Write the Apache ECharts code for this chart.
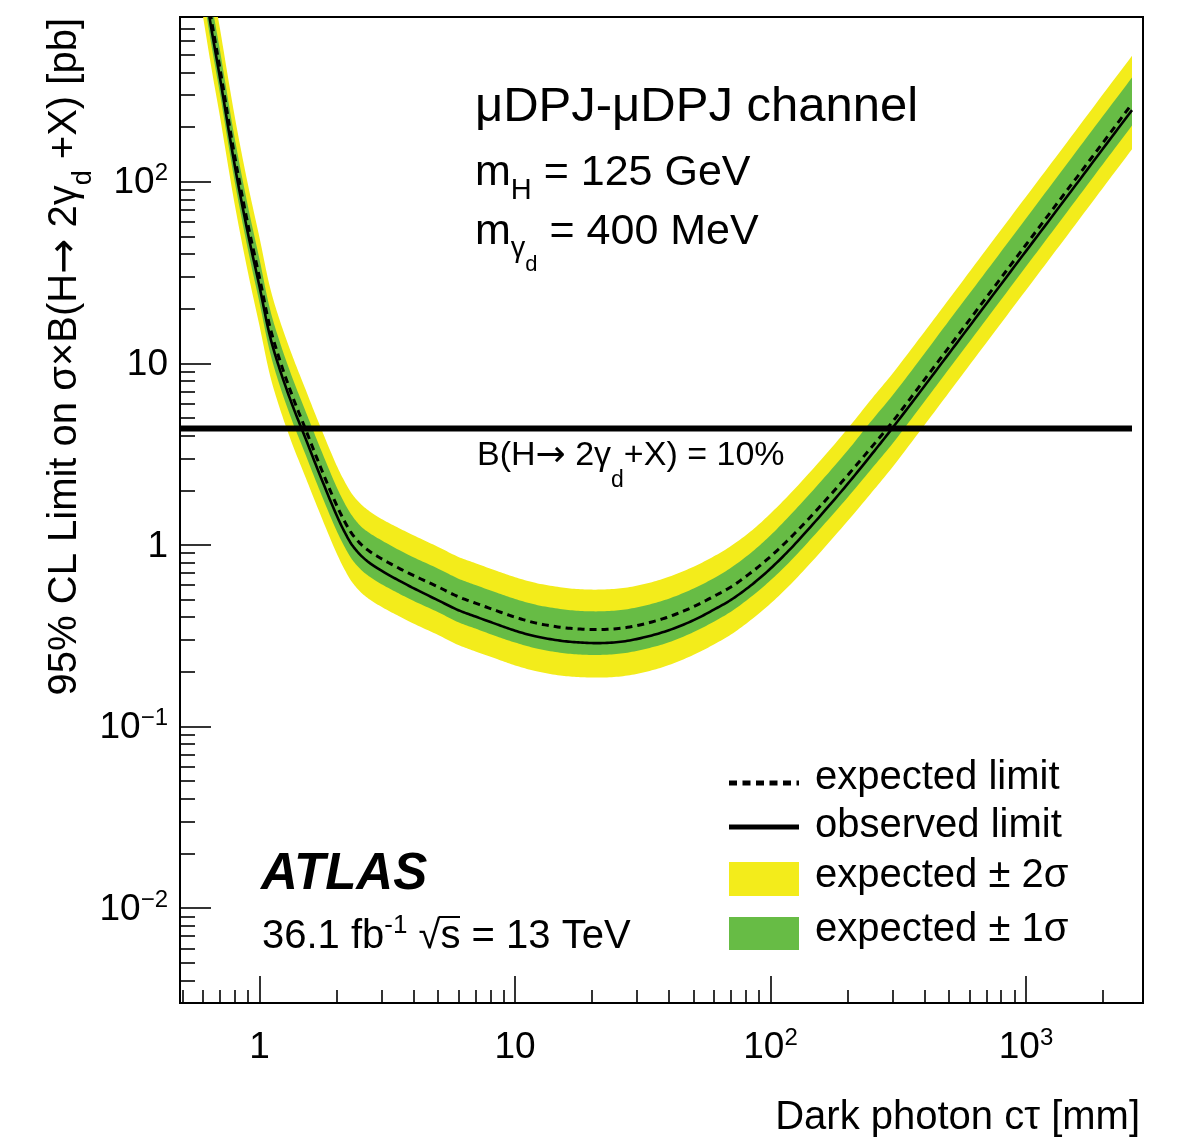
<!DOCTYPE html>
<html><head><meta charset="utf-8">
<script src="https://cdn.jsdelivr.net/npm/echarts@6/dist/echarts.min.js"></script>
<style>html,body{margin:0;padding:0;background:#fff}#c{width:1190px;height:1146px}</style>
</head><body><div id="c"></div>
<script>
// ---------------- data ----------------
const ctValues      = [0.55,0.6,0.65,0.7,0.8,0.9,1.0,1.1,1.2,1.35,1.5,1.7,2.0,2.15,2.3,2.5,2.7,3.0,3.5,4,5,6,7,8.5,10,12,15,18,22,27,33,40,50,60,70,85,100,120,150,200,250,300,400,500,700,1000,1400,2000,2600];
const observedLimit = [2950,1346,675,372,122,52.0,26.3,13.96,9.25,5.78,3.98,2.54,1.46,1.18,1.00,0.871,0.794,0.721,0.638,0.578,0.495,0.437,0.403,0.365,0.337,0.314,0.297,0.290,0.288,0.295,0.313,0.339,0.385,0.440,0.498,0.608,0.741,0.955,1.35,2.16,3.18,4.40,7.48,11.35,21.3,41.5,77.8,152,248];
const expectedLimit = [3311,1510,757,418,137,58.3,29.5,15.7,10.4,6.49,4.47,2.86,1.66,1.35,1.15,1.005,0.920,0.839,0.746,0.679,0.587,0.518,0.478,0.433,0.400,0.372,0.352,0.344,0.342,0.350,0.371,0.402,0.457,0.521,0.587,0.714,0.863,1.10,1.53,2.41,3.49,4.76,8.11,12.3,23.1,45.0,84.3,164,269];
const expectedPlus2 = [5495,2506,1256,693,227,96.8,49.0,26.0,17.2,10.8,7.41,4.75,2.75,2.24,1.91,1.67,1.53,1.39,1.24,1.13,0.975,0.859,0.793,0.718,0.664,0.618,0.585,0.570,0.568,0.581,0.615,0.667,0.759,0.865,0.986,1.21,1.49,1.93,2.72,4.35,6.43,8.77,14.9,22.6,42.5,82.8,155,303,494];
const expectedPlus1 = [4169,1901,953,526,172,73.5,37.2,19.7,13.1,8.17,5.62,3.61,2.09,1.70,1.45,1.26,1.16,1.06,0.940,0.855,0.740,0.652,0.601,0.545,0.504,0.469,0.444,0.433,0.431,0.441,0.467,0.506,0.575,0.656,0.748,0.920,1.13,1.47,2.07,3.30,4.88,6.65,11.3,17.2,32.2,62.8,118,230,375];
const expectedMinus1= [2399,1094,548,303,99.1,42.3,21.4,11.4,7.52,4.70,3.24,2.07,1.20,0.977,0.832,0.728,0.667,0.608,0.541,0.492,0.426,0.375,0.346,0.313,0.290,0.270,0.255,0.249,0.248,0.254,0.269,0.291,0.331,0.378,0.429,0.525,0.638,0.818,1.15,1.82,2.65,3.61,6.15,9.33,17.5,34.1,64.0,125,204];
const expectedMinus2= [1799,820,411,227,74.3,31.7,16.0,8.51,5.64,3.52,2.43,1.56,0.902,0.733,0.624,0.546,0.500,0.456,0.406,0.369,0.319,0.281,0.259,0.235,0.217,0.202,0.191,0.187,0.186,0.190,0.201,0.218,0.248,0.283,0.321,0.392,0.475,0.608,0.851,1.35,1.96,2.68,4.56,6.92,13.0,25.3,47.4,92.5,151];
const brLimitValue  = 4.37;            // B(H -> 2 gamma_d + X) = 10%
const brLimitCt     = [0.488, 2600];
const xRange        = [0.488, 2871];
const yRange        = [0.003, 808];
const xMajorTicks   = [1, 10, 100, 1000];
const xTickLabels   = ['{b|1}', '{b|10}', '{b|10}{s|2}', '{b|10}{s|3}'];
const xMinorTicks   = [0.5,0.6,0.7,0.8,0.9,2,3,4,5,6,7,8,9,20,30,40,50,60,70,80,90,200,300,400,500,600,700,800,900,2000];
const yMajorTicks   = [0.01, 0.1, 1, 10, 100];
const yTickLabels   = ['{b|10}{s|\u22122}', '{b|10}{s|\u22121}', '{b|1}', '{b|10}', '{b|10}{s|2}'];
const yMinorTicks   = [0.003,0.004,0.005,0.006,0.007,0.008,0.009,0.02,0.03,0.04,0.05,0.06,0.07,0.08,0.09,0.2,0.3,0.4,0.5,0.6,0.7,0.8,0.9,2,3,4,5,6,7,8,9,20,30,40,50,60,70,80,90,200,300,400,500,600,700];
const legendNames   = ['expected limit', 'observed limit', 'expected \u00b1 2\u03c3', 'expected \u00b1 1\u03c3'];

// ---------------- styling ----------------
const FONT = '"Liberation Sans", Arial, Helvetica, sans-serif';
const ARROWFONT = '"DejaVu Sans", sans-serif';
const YELLOW = '#F3EC1B';
const GREEN  = '#67BC45';

function labelFor(values, labels) {
  return function (v) {
    const lv = Math.log10(v);
    for (let i = 0; i < values.length; i++) {
      if (Math.abs(Math.log10(values[i]) - lv) < 1e-6) return labels[i];
    }
    return '';
  };
}
const tickRich = {
  b: { fontFamily: FONT, fontSize: 37, lineHeight: 40, color: '#000', verticalAlign: 'bottom' },
  s: { fontFamily: FONT, fontSize: 24, lineHeight: 24, color: '#000', verticalAlign: 'top' }
};

// centripetal Catmull-Rom through pixel points (rendering only: the points come from api.coord)
function smoothPath(pts, steps) {
  const n = pts.length;
  if (n < 3) return pts.slice();
  const P = [[2 * pts[0][0] - pts[1][0], 2 * pts[0][1] - pts[1][1]]].concat(pts, [[2 * pts[n - 1][0] - pts[n - 2][0], 2 * pts[n - 1][1] - pts[n - 2][1]]]);
  const out = [pts[0]];
  function tj(ti, a, b) { const d = Math.hypot(b[0] - a[0], b[1] - a[1]); return ti + Math.max(Math.sqrt(d), 1e-4); }
  function lerp(a, b, ta, tb, t) { const w = (t - ta) / (tb - ta); return [a[0] + (b[0] - a[0]) * w, a[1] + (b[1] - a[1]) * w]; }
  for (let i = 1; i < P.length - 2; i++) {
    const p0 = P[i - 1], p1 = P[i], p2 = P[i + 1], p3 = P[i + 2];
    const t0 = 0, t1 = tj(t0, p0, p1), t2 = tj(t1, p1, p2), t3 = tj(t2, p2, p3);
    for (let s = 1; s <= steps; s++) {
      const t = t1 + (t2 - t1) * s / steps;
      const a1 = lerp(p0, p1, t0, t1, t), a2 = lerp(p1, p2, t1, t2, t), a3 = lerp(p2, p3, t2, t3, t);
      const b1 = lerp(a1, a2, t0, t2, t), b2 = lerp(a2, a3, t1, t3, t);
      out.push(lerp(b1, b2, t1, t2, t));
    }
  }
  return out;
}
function toPixels(api, ys) { return ctValues.map((x, i) => api.coord([x, ys[i]])); }

function bandSeries(name, upper, lower, color, z) {
  return {
    type: 'custom', name: name, clip: true, silent: true, z: z,
    data: [[1, 1]],
    renderItem: function (params, api) {
      const up = smoothPath(toPixels(api, upper), 10);
      const lo = smoothPath(toPixels(api, lower), 10).reverse();
      return { type: 'polygon', shape: { points: up.concat(lo) }, style: { fill: color, stroke: null } };
    }
  };
}
function curveSeries(name, ys, lineStyle, z) {
  return {
    type: 'custom', name: name, clip: true, silent: true, z: z,
    data: [[1, 1]],
    renderItem: function (params, api) {
      return { type: 'polyline', shape: { points: smoothPath(toPixels(api, ys), 10) }, style: Object.assign({ fill: 'none' }, lineStyle) };
    }
  };
}

const axisCommonX = { type: 'log', logBase: 10, min: xRange[0], max: xRange[1], position: 'bottom', splitLine: { show: false }, minorTick: { show: false } };
const axisCommonY = { type: 'log', logBase: 10, min: yRange[0], max: yRange[1], position: 'left', splitLine: { show: false }, minorTick: { show: false } };

// rich styles for text with subscripts; all tokens top-aligned, subscripts pushed down with padding
function subRich(F, subDrop, subsubDrop) {
  const nH = F + 6;
  const sbF = Math.round(F * 0.68), ssF = Math.round(F * 0.5);
  return {
    n:  { fontFamily: FONT, fontSize: F, lineHeight: nH, color: '#000', verticalAlign: 'top' },
    a:  { fontFamily: ARROWFONT, fontSize: Math.round(F * 1.05), lineHeight: nH, color: '#000', verticalAlign: 'top' },
    sb: { fontFamily: FONT, fontSize: sbF, lineHeight: sbF, padding: [Math.round(nH / 2 + subDrop - sbF / 2), 0, 0, 0], color: '#000', verticalAlign: 'top' },
    ss: { fontFamily: FONT, fontSize: ssF, lineHeight: ssF, padding: [Math.round(nH / 2 + (subsubDrop || 0) - ssF / 2), 0, 0, 0], color: '#000', verticalAlign: 'top' }
  };
}

const option = {
  backgroundColor: '#fff',
  animation: false,
  grid: { left: 180, top: 17, width: 963, height: 986, show: true, borderColor: '#000', borderWidth: 2, backgroundColor: 'transparent' },
  xAxis: [
    Object.assign({}, axisCommonX, {
      axisLine: { show: true, onZero: false, lineStyle: { color: '#000', width: 2 } },
      axisTick: { show: true, inside: true, length: 27, customValues: xMajorTicks, lineStyle: { color: '#000', width: 1.6 } },
      axisLabel: { show: true, customValues: xMajorTicks, margin: 23, formatter: labelFor(xMajorTicks, xTickLabels), rich: tickRich, color: '#000' }
    }),
    Object.assign({}, axisCommonX, {
      axisLine: { show: false },
      axisTick: { show: true, inside: true, length: 13, customValues: xMinorTicks, lineStyle: { color: '#000', width: 1.6 } },
      axisLabel: { show: false }
    })
  ],
  yAxis: [
    Object.assign({}, axisCommonY, {
      axisLine: { show: true, onZero: false, lineStyle: { color: '#000', width: 2 } },
      axisTick: { show: true, inside: true, length: 31, customValues: yMajorTicks, lineStyle: { color: '#000', width: 1.6 } },
      axisLabel: { show: true, customValues: yMajorTicks, margin: 12, formatter: labelFor(yMajorTicks, yTickLabels), rich: tickRich, color: '#000' }
    }),
    Object.assign({}, axisCommonY, {
      axisLine: { show: false },
      axisTick: { show: true, inside: true, length: 15, customValues: yMinorTicks, lineStyle: { color: '#000', width: 1.6 } },
      axisLabel: { show: false }
    })
  ],
  series: [
    bandSeries(legendNames[2], expectedPlus2, expectedMinus2, YELLOW, 1),
    bandSeries(legendNames[3], expectedPlus1, expectedMinus1, GREEN, 2),
    curveSeries(legendNames[0], expectedLimit, { stroke: '#000', lineWidth: 3, lineDash: [7, 5] }, 3),
    curveSeries(legendNames[1], observedLimit, { stroke: '#000', lineWidth: 2.6 }, 4),
    { type: 'line', name: 'B = 10%', data: brLimitCt.map(x => [x, brLimitValue]), symbol: 'none', showSymbol: false, z: 5,
      lineStyle: { color: '#000', width: 6 }, clip: true, silent: true }
  ],
  graphic: [
    // ---- annotations ----
    { type: 'text', x: 475, y: 107, z: 100, style: { text: '\u03bcDPJ-\u03bcDPJ channel', fontFamily: FONT, fontSize: 49, fill: '#000', align: 'left', verticalAlign: 'middle' } },
    { type: 'text', x: 475, y: 152, z: 100, style: { text: '{n|m}{sb|H}{n| = 125 GeV}', rich: subRich(43, 14), align: 'left', verticalAlign: 'top' } },
    { type: 'text', x: 475, y: 211, z: 100, style: { text: '{n|m}{sb|\u03b3}{ss|d}{n| = 400 MeV}', rich: subRich(43, 13, 29), align: 'left', verticalAlign: 'top' } },
    { type: 'text', x: 477, y: 439, z: 100, style: { text: '{n|B(H}{a|\u2192}{n| 2\u03b3}{sb|d}{n|+X) = 10%}', rich: subRich(34, 21), align: 'left', verticalAlign: 'top' } },
    { type: 'text', x: 261, y: 875, z: 100, style: { text: 'ATLAS', fontFamily: FONT, fontSize: 51, fontWeight: 'bold', fontStyle: 'italic', fill: '#000', align: 'left', verticalAlign: 'middle' } },
    { type: 'text', x: 262, y: 935, z: 100, style: { text: '{n|36.1 fb}{sp|-1}{n| \u221as = 13 TeV}', rich: {
        n: { fontFamily: FONT, fontSize: 40, lineHeight: 44, color: '#000', verticalAlign: 'bottom' },
        sp: { fontFamily: FONT, fontSize: 26, lineHeight: 26, color: '#000', verticalAlign: 'top' } }, align: 'left', verticalAlign: 'middle' } },
    { type: 'line', z: 100, shape: { x1: 439, y1: 917, x2: 460, y2: 917 }, style: { stroke: '#000', lineWidth: 2 } },
    // ---- legend ----
    { type: 'line', z: 100, shape: { x1: 729, y1: 783, x2: 799, y2: 783 }, style: { stroke: '#000', lineWidth: 5, lineDash: [8, 5.5] } },
    { type: 'line', z: 100, shape: { x1: 729, y1: 827, x2: 799, y2: 827 }, style: { stroke: '#000', lineWidth: 5 } },
    { type: 'rect', z: 100, shape: { x: 729, y: 862, width: 70, height: 34 }, style: { fill: YELLOW } },
    { type: 'rect', z: 100, shape: { x: 729, y: 917, width: 70, height: 33 }, style: { fill: GREEN } },
    { type: 'text', x: 815, y: 778, z: 100, style: { text: legendNames[0], fontFamily: FONT, fontSize: 40, fill: '#000', align: 'left', verticalAlign: 'middle' } },
    { type: 'text', x: 815, y: 826, z: 100, style: { text: legendNames[1], fontFamily: FONT, fontSize: 40, fill: '#000', align: 'left', verticalAlign: 'middle' } },
    { type: 'text', x: 815, y: 876, z: 100, style: { text: legendNames[2], fontFamily: FONT, fontSize: 40, fill: '#000', align: 'left', verticalAlign: 'middle' } },
    { type: 'text', x: 815, y: 930, z: 100, style: { text: legendNames[3], fontFamily: FONT, fontSize: 40, fill: '#000', align: 'left', verticalAlign: 'middle' } },
    // ---- axis titles ----
    { type: 'text', x: 1140, y: 1118, z: 100, style: { text: 'Dark photon c\u03c4 [mm]', fontFamily: FONT, fontSize: 40, fill: '#000', align: 'right', verticalAlign: 'middle' } },
    { type: 'text', x: 68, y: 18, rotation: Math.PI / 2, z: 100, style: { text: '{n|95% CL Limit on \u03c3\u00d7B(H}{a|\u2192}{n| 2\u03b3}{sb|d}{n| +X) [pb]}', rich: subRich(40, 15), align: 'right', verticalAlign: 'middle' } }
  ]
};

const chart = echarts.init(document.getElementById('c'), null, { renderer: 'canvas', width: 1190, height: 1146 });
chart.setOption(option);
</script></body></html>
